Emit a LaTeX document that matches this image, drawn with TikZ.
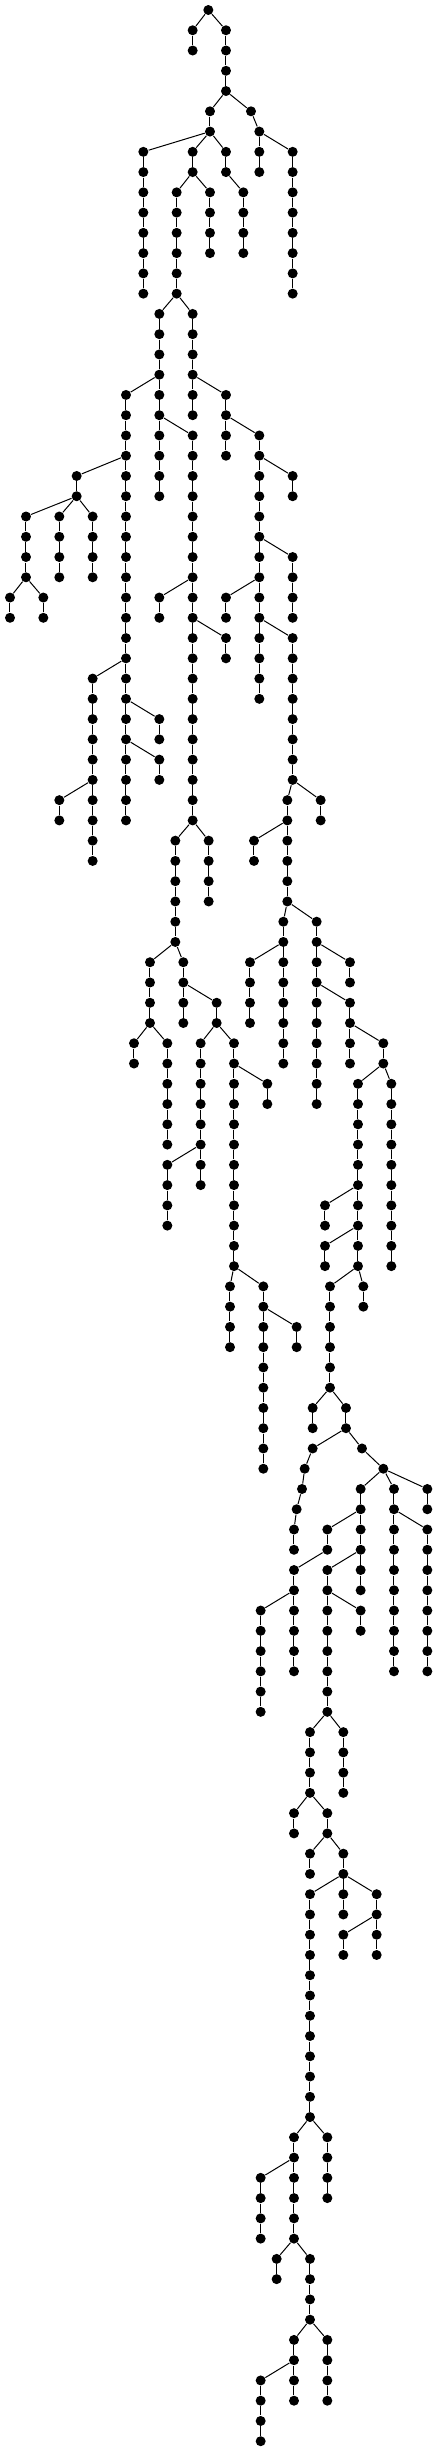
\documentclass[tikz,border=0pt]{standalone}

\tikzset{vtx/.style={circle, fill=black, inner sep=0pt, minimum size=10pt}}

\def\chains{625/0/0, 578/1/2, 678/1/4, 630/5/6, 753/5/5, 778/6/8, 878/7/14, 430/7/14,
578/7/8, 678/7/8, 530/9/14, 630/9/12, 730/9/12, 478/15/24, 578/15/20, 378/19/40,
678/19/22, 578/21/40, 778/21/34, 230/23/24, 878/23/24, 78/25/28, 178/25/28, 278/25/28,
878/27/30, 30/29/30, 130/29/30, 478/29/30, 678/29/30, 678/31/32, 878/31/38, 278/33/42,
478/35/36, 478/37/38, 178/39/40, 862/39/44, 962/39/40, 526/41/46, 626/41/44, 762/41/42,
850/45/52, 950/45/54, 450/47/50, 550/47/50, 750/47/50, 1050/47/48, 650/49/50, 1050/49/52,
402/51/52, 502/51/56, 602/51/58, 702/51/62, 1150/51/52, 802/53/54, 1074/53/62, 1174/53/62,
502/57/60, 975/59/60, 975/61/62, 690/63/66, 790/63/72, 990/63/68, 1090/63/64, 890/65/66,
938/69/70, 1038/69/70, 938/71/71, 1086/71/71, 914/72/72, 1150/72/72, 906/73/73, 1082/73/78,
1182/73/82, 1282/73/74, 890/74/74, 882/75/76, 982/75/76, 1282/75/82, 882/77/82, 982/77/84,
782/79/84, 1082/79/80, 930/85/88, 1030/85/88, 882/89/90, 982/89/90, 930/91/92, 1030/91/94,
930/93/104, 1130/93/96, 1030/95/96, 882/105/110, 982/105/108, 782/107/110, 830/111/112,
930/111/114, 882/115/118, 982/115/118, 782/117/120}

\begin{document}
\begin{tikzpicture}[x=0.33333pt, y=20.26pt, line width=1pt]
\useasboundingbox (0pt,10pt) rectangle (438pt,-2442pt);
\foreach \x/\a/\b in \chains
	\foreach \l in {\a,...,\b}
		\node[vtx] (n\x-\l) at (\x,-\l) {};
\foreach \x/\a/\b in \chains {
	\ifnum\b>\a
		\pgfmathtruncatemacro\c{\a+1}
		\foreach \l in {\c,...,\b} {
			\pgfmathtruncatemacro\p{\l-1}
			\draw (n\x-\p) -- (n\x-\l);
		}
	\fi
}
\foreach \s/\t in {625-0/578-1, 625-0/678-1, 678-4/630-5, 678-4/753-5, 753-5/778-6,
	778-6/878-7, 630-6/430-7, 630-6/578-7, 630-6/678-7, 578-8/530-9, 578-8/630-9,
	678-8/730-9, 530-14/478-15, 530-14/578-15, 478-18/378-19, 578-18/678-19,
	478-20/578-21, 678-20/778-21, 378-22/230-23, 778-22/878-23, 230-24/78-25,
	230-24/178-25, 230-24/278-25, 778-26/878-27, 78-28/30-29, 78-28/130-29,
	578-28/478-29, 778-28/678-29, 578-30/678-31, 778-30/878-31, 378-32/278-33,
	378-34/478-35, 378-36/478-37, 278-38/178-39, 878-38/862-39, 878-38/962-39,
	578-40/526-41, 578-40/626-41, 862-40/762-41, 862-44/850-45, 862-44/950-45,
	526-46/450-47, 526-46/550-47, 850-46/750-47, 950-46/1050-47, 550-48/650-49,
	950-48/1050-49, 450-50/402-51, 450-50/502-51, 650-50/602-51, 650-50/702-51,
	1050-50/1150-51, 702-52/802-53, 1150-52/1074-53, 1150-52/1174-53, 602-56/502-57,
	1074-58/975-59, 1074-60/975-61, 702-62/690-63, 702-62/790-63, 1074-62/990-63,
	1074-62/1090-63, 790-64/890-65, 990-68/938-69, 990-68/1038-69, 1038-70/938-71,
	1038-70/1086-71, 938-71/914-72, 1086-71/1150-72, 914-72/906-73, 1150-72/1082-73,
	1150-72/1182-73, 1150-72/1282-73, 906-73/890-74, 890-74/882-75, 1082-74/982-75,
	1182-74/1282-75, 982-76/882-77, 1082-76/982-77, 882-78/782-79, 982-78/1082-79,
	982-84/930-85, 982-84/1030-85, 930-88/882-89, 930-88/982-89, 982-90/930-91,
	982-90/1030-91, 1030-92/930-93, 1030-92/1130-93, 1130-94/1030-95, 930-104/882-105,
	930-104/982-105, 882-106/782-107, 882-110/830-111, 882-110/930-111,
	930-114/882-115, 930-114/982-115, 882-116/782-117}
	\draw (n\s) -- (n\t);
\end{tikzpicture}
\end{document}
